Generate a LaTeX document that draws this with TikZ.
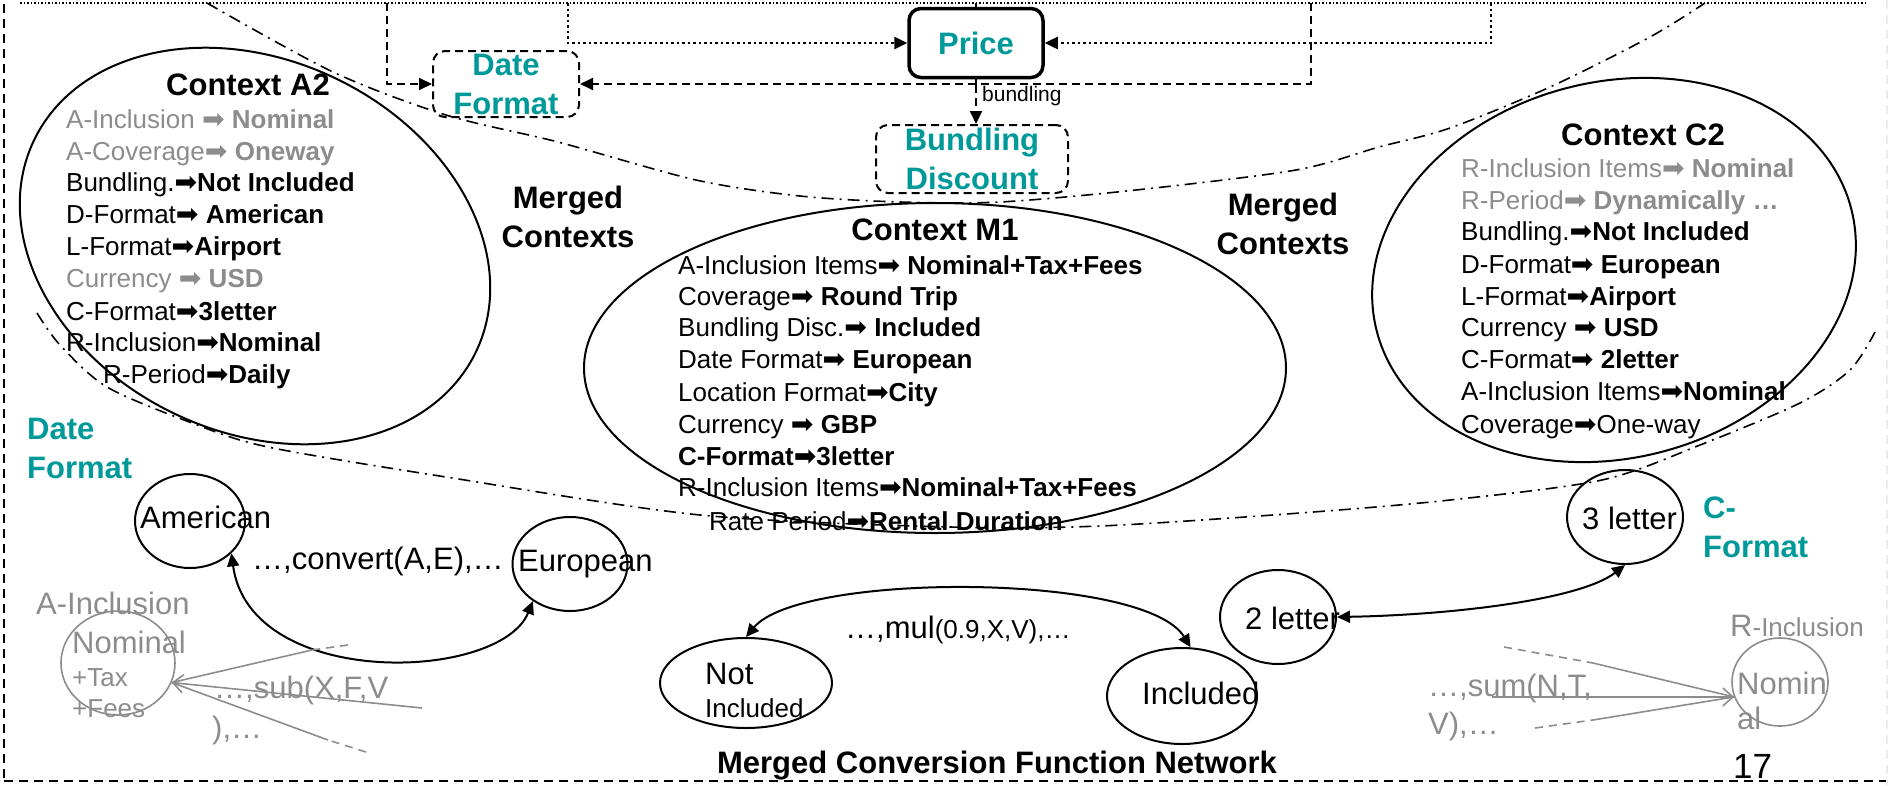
\documentclass[tikz,border=0pt]{standalone}
\usepackage{fontspec}
\setmainfont{Liberation Sans}
\newfontfamily\symfont{DejaVu Sans}
\usetikzlibrary{arrows.meta,shapes.geometric}
\definecolor{tealc}{RGB}{0,153,153}
\definecolor{tgray}{RGB}{140,140,140}
\newcommand{\myarr}{{\symfont\fontsize{27}{31}\selectfont\symbol{"27A1}}}
\begin{document}
\begin{tikzpicture}[x=1pt,y=-1pt,
  itm/.style={anchor=base west, inner sep=0pt, font=\fontsize{26}{31}\selectfont},
  gitm/.style={itm, text=tgray},
  ttl/.style={inner sep=0pt, font=\fontsize{31}{39}\selectfont\bfseries, align=center},
  tlab/.style={ttl, text=tealc},
  big/.style={anchor=base west, inner sep=0pt, font=\fontsize{31}{38}\selectfont},
  gbig/.style={big, text=tgray},
  ctx/.style={draw, ellipse, line width=2pt, inner sep=0pt},
  gctx/.style={draw=tgray, ellipse, line width=1.6pt, inner sep=0pt},
  dsh/.style={line width=2pt, dash pattern=on 8pt off 5pt},
  dotln/.style={line width=2.5pt, dash pattern=on 2.5pt off 3pt},
  ddot/.style={line width=1.6pt, dash pattern=on 12pt off 6pt on 2pt off 6pt},
  tbox/.style={tlab, draw=black, dsh, rounded corners=12pt},
  tip/.style={-{Triangle[length=13pt,width=12pt]}},
  btip/.style={{Triangle[length=13pt,width=12pt]}-{Triangle[length=13pt,width=12pt]}},
  arr/.style={line width=2pt},
  gl/.style={draw=tgray, line width=1.6pt},
  gld/.style={gl, dash pattern=on 8pt off 6pt}
]
\useasboundingbox (0,0) rectangle (1900,785);

% frame
\draw[line width=1.6pt, dash pattern=on 9pt off 6pt] (4,4) -- (4,781);
\draw[line width=1.6pt, dash pattern=on 9pt off 6pt] (4,781) -- (1886,781);
\draw[gray!15, line width=1.5pt, dash pattern=on 9pt off 6pt] (1887,0) -- (1887,785);
\draw[line width=1.2pt, dash pattern=on 1.5pt off 2pt] (20,3) -- (1867,3);

% merged contexts band
\draw[ddot] plot[smooth] coordinates {(207,3) (333,72) (446,115) (558,142) (696,180) (800,196) (900,202) (1000,202) (1136,190) (1296,170) (1379,147) (1450,128) (1550,87) (1650,37) (1705,3)};
\draw[ddot] plot[smooth] coordinates {(37,313) (60,345) (107,387) (192,423) (268,447) (446,477) (700,515) (950,527) (1100,526) (1300,513) (1450,500) (1602,480) (1700,445) (1800,403) (1850,370) (1875,332)};

% top nodes
\node[tbox, minimum width=146, minimum height=66] (df) at (506,84) {Date\\Format};
\node[draw, line width=3.5pt, rounded corners=12pt, minimum width=134, minimum height=69, inner sep=0pt, text=tealc, font=\fontsize{31}{38}\selectfont\bfseries] (price) at (976,43) {Price};
\node[tbox, minimum width=192, minimum height=68] (bd) at (972,159) {Bundling\\Discount};

\coordinate (tA) at (387,3);
\coordinate (tB) at (1311,3);
\coordinate (tC) at (568,3);
\coordinate (tD) at (1491,3);
\coordinate (tE) at (976,3);
\coordinate (pj) at (976,85);
\draw[dsh, tip] (tA) |- (df.west);
\draw[dsh, tip] (tB) |- (df.east);
\draw[dotln, tip] (tC) |- (price.west);
\draw[dotln, tip] (tD) |- (price.east);
\draw[line width=1.5pt] (tE) -- (price.north);
\draw[line width=1.5pt] (price.south) -- (pj);
\draw[dsh, tip] (pj) -- (pj |- bd.north);
\node[anchor=west, inner sep=0pt, font=\fontsize{21}{25}\selectfont] (bl) at (982,96) {bundling};

% Context A2
\node[ctx, minimum width=490, minimum height=372, rotate=-25.5] (a2) at (255,246) {};
\node[ttl] (a2t) at (248,85) {Context A2};
\node[gitm] (a2i1) at (66,128) {A-Inclusion \myarr{} \textbf{Nominal}};
\node[gitm] (a2i2) at (66,160) {A-Coverage\myarr{} \textbf{Oneway}};
\node[itm] (a2i3) at (66,191) {Bundling.\myarr\textbf{Not Included}};
\node[itm] (a2i4) at (66,223) {D-Format\myarr{} \textbf{American}};
\node[itm] (a2i5) at (66,255) {L-Format\myarr\textbf{Airport}};
\node[gitm] (a2i6) at (66,287) {Currency \myarr{} \textbf{USD}};
\node[itm] (a2i7) at (66,320) {C-Format\myarr\textbf{3letter}};
\node[itm] (a2i8) at (66,351) {R-Inclusion\myarr\textbf{Nominal}};
\node[itm] (a2i9) at (103,383) {R-Period\myarr\textbf{Daily}};

\node[ttl] (mc1) at (568,217) {Merged\\Contexts};
\node[ttl] (mc2) at (1283,224) {Merged\\Contexts};

% Context M1
\node[ctx, minimum width=702, minimum height=330] (m1) at (935,368) {};
\node[ttl] (m1t) at (935,230) {Context M1};
\node[itm] (m1i1) at (678,274) {A-Inclusion Items\myarr{} \textbf{Nominal+Tax+Fees}};
\node[itm] (m1i2) at (678,305) {Coverage\myarr{} \textbf{Round Trip}};
\node[itm] (m1i3) at (678,336) {Bundling Disc.\myarr{} \textbf{Included}};
\node[itm] (m1i4) at (678,368) {Date Format\myarr{} \textbf{European}};
\node[itm] (m1i5) at (678,401) {Location Format\myarr\textbf{City}};
\node[itm] (m1i6) at (678,433) {Currency \myarr{} \textbf{GBP}};
\node[itm] (m1i7) at (678,465) {\textbf{C-Format\myarr3letter}};
\node[itm] (m1i8) at (678,496) {R-Inclusion Items\myarr\textbf{Nominal+Tax+Fees}};
\node[itm] (m1i9) at (709,530) {Rate Period\myarr\textbf{Rental Duration}};

% Context C2
\node[ctx, minimum width=490, minimum height=376, rotate=14.5] (c2) at (1614,270) {};
\node[ttl] (c2t) at (1643,135) {Context C2};
\node[gitm] (c2i1) at (1461,177) {R-Inclusion Items\myarr{} \textbf{Nominal}};
\node[gitm] (c2i2) at (1461,209) {R-Period\myarr{} \textbf{Dynamically …}};
\node[itm] (c2i3) at (1461,240) {Bundling.\myarr\textbf{Not Included}};
\node[itm] (c2i4) at (1461,273) {D-Format\myarr{} \textbf{European}};
\node[itm] (c2i5) at (1461,305) {L-Format\myarr\textbf{Airport}};
\node[itm] (c2i6) at (1461,336) {Currency \myarr{} \textbf{USD}};
\node[itm] (c2i7) at (1461,368) {C-Format\myarr{} \textbf{2letter}};
\node[itm] (c2i8) at (1461,400) {A-Inclusion Items\myarr\textbf{Nominal}};
\node[itm] (c2i9) at (1461,433) {Coverage\myarr One-way};

% Date format network
\node[tlab, anchor=west, align=left] (dfl) at (27,448) {Date\\Format};
\node[ctx, minimum width=110, minimum height=94] (am) at (190,521) {};
\node[big] (amt) at (140,528) {American};
\node[ctx, minimum width=115, minimum height=94] (eu) at (570,564) {};
\node[big] (eut) at (518,571) {European};
\node[big] (cv) at (252,569) {…,convert(A,E),…};
\draw[arr, btip] (am.-38) .. controls (250,690) and (500,682) .. (eu.-135);

% A-Inclusion (gray)
\node[gbig] (ail) at (36,614) {A-Inclusion};
\node[gctx, minimum width=114, minimum height=104] (ai) at (118,663) {};
\node[gbig] (ait1) at (72,653) {Nominal};
\node[gitm] (ait2) at (72,686) {+Tax};
\node[gitm] (ait3) at (72,717) {+Fees};
\coordinate (aip) at (ai.-20);
\coordinate (a1m) at (312,650);
\coordinate (a1e) at (348,645);
\coordinate (a2e) at (422,708);
\coordinate (a3m) at (328,740);
\coordinate (a3e) at (366,752);
\draw[gl] (a1m) -- (aip);
\draw[gld] (a1e) -- (a1m);
\draw[gl, -{Straight Barb[length=10pt,width=18pt]}] (a2e) -- (aip);
\draw[gl] (a3m) -- (aip);
\draw[gld] (a3e) -- (a3m);
\node[gbig] (sub1) at (214,698) {…,sub(X,F,V};
\node[gbig] (sub2) at (212,738) {),…};

% Bundling network
\node[ctx, minimum width=172, minimum height=90] (ni) at (746,683) {};
\node[big] (nit1) at (705,684) {Not};
\node[itm] (nit2) at (705,717) {Included};
\node[ctx, minimum width=150, minimum height=96] (inc) at (1182,696) {};
\node[big] (inct) at (1142,704) {Included};
\draw[arr, btip] (ni.north) .. controls (800,572) and (1144,572) .. (inc.80);
\node[big] (mul) at (845,638) {…,mul{\fontsize{26}{31}\selectfont(0.9,X,V),…}};

% C-Format network
\node[ctx, minimum width=116, minimum height=94] (l2) at (1278,617) {};
\node[big] (l2t) at (1245,629) {2 letter};
\node[ctx, minimum width=116, minimum height=94] (l3) at (1625,517) {};
\node[big] (l3t) at (1582,529) {3 letter};
\draw[arr, btip] (l2.east) .. controls (1450,615) and (1580,600) .. (l3.south);
\node[tlab, anchor=west, align=left] (cfl) at (1703,527) {C-\\Format};

% R-Inclusion (gray)
\node[gbig] (ril) at (1730,636) {R{\fontsize{26}{31}\selectfont-Inclusion}};
\node[gctx, minimum width=96, minimum height=88] (ri) at (1780,682) {};
\node[gbig] (rit1) at (1737,694) {Nomin};
\node[gbig] (rit2) at (1737,729) {al};
\coordinate (rip) at (ri.-162);
\coordinate (r1s) at (1504,647);
\coordinate (r1m) at (1593,663);
\coordinate (r2s) at (1492,697);
\coordinate (r3s) at (1535,728);
\coordinate (r3m) at (1593,720);
\draw[gld] (r1s) -- (r1m);
\draw[gl] (r1m) -- (rip);
\draw[gl, -{Straight Barb[length=10pt,width=18pt]}] (r2s) -- (rip);
\draw[gld] (r3s) -- (r3m);
\draw[gl] (r3m) -- (rip);
\node[gbig] (sum1) at (1428,696) {…,sum(N,T,};
\node[gbig] (sum2) at (1428,734) {V),…};

% footer
\node[anchor=base, inner sep=0pt, font=\fontsize{31}{38}\selectfont\bfseries] (foot) at (997,773) {Merged Conversion Function Network};
\node[anchor=base west, inner sep=0pt, font=\fontsize{35}{40}\selectfont] (pg) at (1733,778) {17};
\end{tikzpicture}
\end{document}
